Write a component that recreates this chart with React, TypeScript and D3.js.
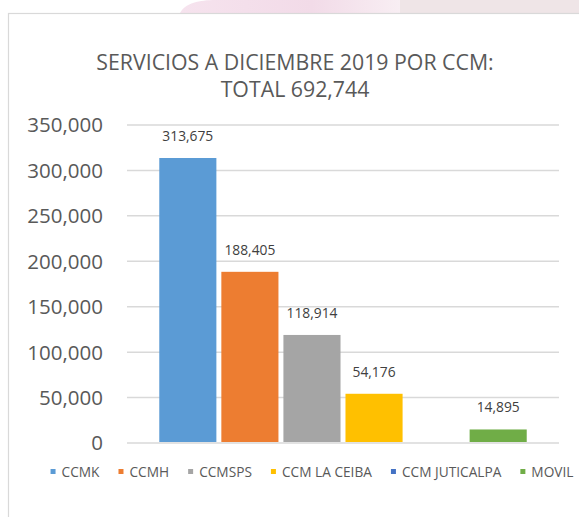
import * as d3 from "d3";
import { useMemo } from "react";

const W = 579;
const H = 517;

const TITLE_LINES = ["SERVICIOS A DICIEMBRE 2019 POR CCM:", "TOTAL 692,744"];
const SERIES = ["CCMK", "CCMH", "CCMSPS", "CCM LA CEIBA", "CCM JUTICALPA", "MOVIL"];
const VALUES: (number | null)[] = [313675, 188405, 118914, 54176, null, 14895];
const COLORS = ["#5B9BD5", "#ED7D31", "#A5A5A5", "#FFC000", "#4472C4", "#70AD47"];
const Y_TICKS = [0, 50000, 100000, 150000, 200000, 250000, 300000, 350000];

const FONT = "'Open Sans', 'DejaVu Sans', sans-serif";
const LEGEND_SIZE = 13.7;

const PLOT = { left: 127, right: 559, top: 125, bottom: 443 };

function textWidth(text: string, size: number): number {
  const ctx = document.createElement("canvas").getContext("2d");
  if (!ctx) return text.length * size * 0.6;
  ctx.font = `${size}px 'Open Sans'`;
  return ctx.measureText(text).width;
}

export default function App() {
  const y = d3.scaleLinear().domain([0, 350000]).range([PLOT.bottom, PLOT.top]);
  const x = d3
    .scaleBand<string>()
    .domain(SERIES)
    .range([PLOT.left, PLOT.right])
    .paddingInner(0.08)
    .paddingOuter(0.52);
  const fmt = d3.format(",");

  const legend = useMemo(() => {
    const marker = 5;
    const gapText = 6;
    const gapItem = 19;
    const items = SERIES.map((s) => ({ s, w: textWidth(s, LEGEND_SIZE) }));
    const total =
      d3.sum(items, (d) => marker + gapText + d.w) + gapItem * (items.length - 1);
    let cx = 312 - total / 2;
    return items.map((d, i) => {
      const pos = { name: d.s, x: cx, color: COLORS[i] };
      cx += marker + gapText + d.w + gapItem;
      return pos;
    });
  }, []);

  return (
    <svg
      width={W}
      height={H}
      style={{ position: "absolute", left: 0, top: 0, background: "#fff" }}
      fontFamily={FONT}
    >
      {/* watermark strip above the chart box */}
      <defs>
        <linearGradient id="pinkband" x1="0" x2="1" y1="0" y2="0">
          <stop offset="0" stopColor="#f6e3ee" />
          <stop offset="0.6" stopColor="#f2dbe8" />
          <stop offset="1" stopColor="#f8eef3" />
        </linearGradient>
      </defs>
      <path d="M180,13 C185,3 200,0 215,0 L400,0 L400,13 Z" fill="url(#pinkband)" />
      <rect x={400} y={0} width={179} height={13} fill="#efe5e7" />

      {/* chart box */}
      <rect x={8.5} y={13.5} width={W + 10} height={H + 10} fill="#fff" stroke="#d9d9d9" strokeWidth={1.2} />

      {TITLE_LINES.map((t, i) => (
        <text
          key={t}
          x={295}
          y={70 + i * 27}
          textAnchor="middle"
          fontSize={21.3}
          fill="#595959"
        >
          {t}
        </text>
      ))}

      {/* gridlines and y labels */}
      {Y_TICKS.map((t) => (
        <g key={t}>
          <line
            x1={PLOT.left}
            x2={PLOT.right}
            y1={y(t)}
            y2={y(t)}
            stroke="#d9d9d9"
            strokeWidth={1.5}
          />
          <text
            x={103}
            y={y(t)}
            dy="0.36em"
            textAnchor="end"
            fontSize={20.5}
            fill="#595959"
          >
            {fmt(t)}
          </text>
        </g>
      ))}

      {/* bars */}
      {SERIES.map((s, i) => {
        const v = VALUES[i];
        if (v == null) return null;
        const bx = x(s) ?? 0;
        return (
          <g key={s}>
            <rect
              x={bx}
              y={y(v)}
              width={x.bandwidth()}
              height={y(0) - y(v) - 1}
              fill={COLORS[i]}
            />
            <text
              x={bx + x.bandwidth() / 2}
              y={y(v) - 17}
              textAnchor="middle"
              fontSize={13.8}
              fill="#404040"
            >
              {fmt(v)}
            </text>
          </g>
        );
      })}

      {/* legend */}
      {legend.map((d) => (
        <g key={d.name}>
          <rect x={d.x} y={469} width={5} height={5} fill={d.color} />
          <text x={d.x + 11} y={476.5} fontSize={LEGEND_SIZE} fill="#595959">
            {d.name}
          </text>
        </g>
      ))}
    </svg>
  );
}
